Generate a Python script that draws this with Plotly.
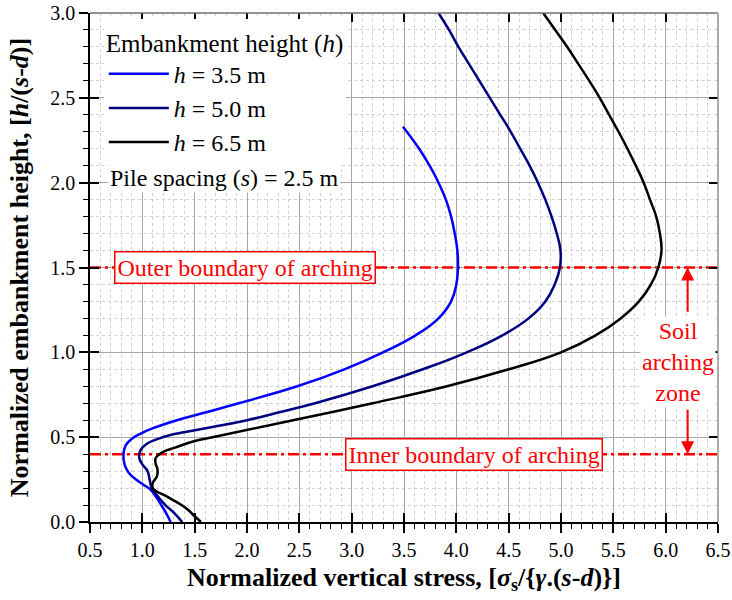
import plotly.graph_objects as go

# ---------------- data ----------------
h35_y = [0.00, 0.05, 0.10, 0.15, 0.19, 0.22, 0.25, 0.29, 0.34, 0.40, 0.45, 0.49, 0.52, 0.55,
         0.60, 0.65, 0.70, 0.80, 0.90, 1.00, 1.10, 1.20, 1.30, 1.40, 1.50, 1.60, 1.70, 1.80,
         1.90, 2.00, 2.10, 2.20, 2.33]
h35_x = [1.27, 1.23, 1.18, 1.13, 1.08, 1.01, 0.94, 0.87, 0.83, 0.82, 0.84, 0.90, 0.98, 1.09,
         1.33, 1.63, 1.92, 2.48, 2.93, 3.30, 3.61, 3.83, 3.95, 4.00, 4.015, 4.01, 3.985, 3.95,
         3.90, 3.83, 3.745, 3.645, 3.49]

h50_y = [0.00, 0.05, 0.10, 0.15, 0.20, 0.25, 0.30, 0.34, 0.38, 0.42, 0.46, 0.49, 0.51, 0.53,
         0.56, 0.60, 0.65, 0.70, 0.80, 0.90, 1.00, 1.10, 1.20, 1.30, 1.40, 1.50, 1.60, 1.70,
         1.80, 1.90, 2.00, 2.10, 2.20, 2.30, 2.40, 2.50, 2.60, 2.70, 2.80, 2.90, 3.00]
h50_x = [1.38, 1.31, 1.22, 1.15, 1.09, 1.07, 1.05, 1.00, 0.97, 0.98, 1.04, 1.15, 1.25, 1.41,
         1.67, 2.00, 2.33, 2.65, 3.20, 3.68, 4.10, 4.44, 4.69, 4.85, 4.94, 4.99, 4.995, 4.96,
         4.91, 4.85, 4.78, 4.70, 4.61, 4.52, 4.42, 4.32, 4.22, 4.12, 4.02, 3.93, 3.83]

h65_y = [0.00, 0.04, 0.08, 0.145, 0.20, 0.23, 0.27, 0.31, 0.35, 0.38, 0.41, 0.44, 0.48, 0.50,
         0.60, 0.70, 0.80, 0.90, 1.00, 1.10, 1.20, 1.30, 1.40, 1.50, 1.60, 1.70, 1.80, 1.90,
         2.00, 2.10, 2.20, 2.30, 2.40, 2.50, 2.60, 2.70, 2.80, 2.90, 3.00]
h65_x = [1.56, 1.49, 1.42, 1.25, 1.10, 1.10, 1.14, 1.145, 1.125, 1.13, 1.19, 1.32, 1.52, 1.67,
         2.44, 3.20, 3.91, 4.50, 5.00, 5.33, 5.57, 5.745, 5.86, 5.93, 5.96, 5.945, 5.91, 5.85,
         5.79, 5.715, 5.635, 5.55, 5.46, 5.37, 5.27, 5.165, 5.06, 4.945, 4.83]

series_names = ["<i>h</i> = 3.5 m", "<i>h</i> = 5.0 m", "<i>h</i> = 6.5 m"]
series_colors = ["#0000FF", "#000080", "#000000"]

boundary_y = [1.5, 0.4]
boundary_labels = ["Outer boundary of arching", "Inner boundary of arching"]
boundary_label_x = [1.98, 4.17]

x_range = [0.5, 6.5]
y_range = [0.0, 3.0]

zone_x = 6.21
zone_text_x = 6.12
zone_text_y = 0.945
zone_arrow_up = [1.23, 1.5]     # tail, head
zone_arrow_down = [0.67, 0.4]   # tail, head

FONT = "Liberation Serif"
RED = "#FF0000"

fig = go.Figure()

# boundary lines
for by in boundary_y:
    fig.add_trace(go.Scatter(x=x_range, y=[by, by], mode="lines",
                             line=dict(color=RED, width=2.5, dash="11px,4px,3px,4px"),
                             showlegend=False, hoverinfo="skip"))

for xs, ys, name, col in zip([h35_x, h50_x, h65_x], [h35_y, h50_y, h65_y],
                             series_names, series_colors):
    fig.add_trace(go.Scatter(x=xs, y=ys, mode="lines", name=name,
                             line=dict(color=col, width=2.5, shape="spline", smoothing=1.3)))

# empty traces for the overlay tick axes
fig.add_trace(go.Scatter(x=[], y=[], xaxis="x2", yaxis="y", showlegend=False))
fig.add_trace(go.Scatter(x=[], y=[], xaxis="x", yaxis="y2", showlegend=False))

axis_common = dict(showline=True, linecolor="black", linewidth=1.5, automargin=False,
                   ticks="outside", ticklen=9, tickwidth=1.5, tickcolor="black",
                   showgrid=True, gridcolor="#A8A8A8", gridwidth=1.2, zeroline=False,
                   tickfont=dict(size=20, family=FONT, color="black"),
                   tickformat=".1f")
minor_common = dict(ticks="outside", ticklen=5, tickwidth=1.2, tickcolor="black",
                    showgrid=True, gridcolor="#D0D0D0", griddash="dot", gridwidth=1)
overlay_common = dict(ticks="inside", ticklen=9, tickwidth=1.5, tickcolor="black", mirror="ticks",
                      showticklabels=False, showgrid=False, showline=False, zeroline=False,
                      automargin=False)

fig.update_layout(
    width=732, height=600,
    margin=dict(l=90, r=14, t=13, b=78),
    paper_bgcolor="white", plot_bgcolor="white",
    font=dict(family=FONT, color="black"),
    xaxis=dict(range=x_range, tick0=0.5, dtick=0.5,
               minor=dict(dtick=0.1, **minor_common),
               title=dict(text="<b>Normalized vertical stress, [<i>σ</i><sub>s</sub>/{<i>γ</i>.(<i>s</i>-<i>d</i>)}]</b>",
                          font=dict(size=26, family=FONT), standoff=8),
               **axis_common),
    yaxis=dict(range=y_range, tick0=0, dtick=0.5,
               minor=dict(dtick=0.1, **minor_common),
               title=dict(text="<b>Normalized embankment height, [<i>h</i>/(<i>s</i>-<i>d</i>)]</b>",
                          font=dict(size=26, family=FONT), standoff=14),
               **axis_common),
    xaxis2=dict(range=x_range, overlaying="x", anchor="y", side="bottom", tick0=0.5, dtick=0.5,
                **overlay_common),
    yaxis2=dict(range=y_range, overlaying="y", anchor="x", side="left", tick0=0, dtick=0.5,
                **overlay_common),
    legend=dict(x=0.022, y=0.988, xanchor="left", yanchor="top", bgcolor="white",
                borderwidth=0, font=dict(size=24, family=FONT, color="black"),
                title=dict(text="Embankment height (<i>h</i>)", font=dict(size=25, family=FONT)),
                itemwidth=60, tracegroupgap=0),
)

# top and right frame
fig.add_shape(type="line", xref="paper", yref="paper", x0=0, x1=1, y0=1, y1=1,
              line=dict(color="#707070", width=1.5))
fig.add_shape(type="line", xref="paper", yref="paper", x0=1, x1=1, y0=0, y1=1,
              line=dict(color="#909090", width=1.5))

fig.add_annotation(x=0.029, xref="paper", y=2.03, yref="y", xanchor="left",
                   text="Pile spacing (<i>s</i>) = 2.5 m", showarrow=False,
                   font=dict(size=24, family=FONT, color="black"), bgcolor="white")

for lx, by, txt in zip(boundary_label_x, boundary_y, boundary_labels):
    fig.add_annotation(x=lx, y=by, text=txt, showarrow=False,
                       font=dict(size=24, family=FONT, color=RED),
                       bgcolor="white", bordercolor=RED, borderwidth=1.5, borderpad=2)

fig.add_annotation(x=zone_text_x, y=zone_text_y, text="Soil<br>arching<br>zone", showarrow=False,
                   font=dict(size=24, family=FONT, color=RED), bgcolor="white")
for tail, head in [zone_arrow_up, zone_arrow_down]:
    fig.add_annotation(x=zone_x, y=head, ax=zone_x, ay=tail, xref="x", yref="y",
                       axref="x", ayref="y", text="", showarrow=True,
                       arrowhead=2, arrowsize=1.3, arrowwidth=2, arrowcolor=RED,
                       standoff=0, startstandoff=0)

fig.write_html("out.html")
